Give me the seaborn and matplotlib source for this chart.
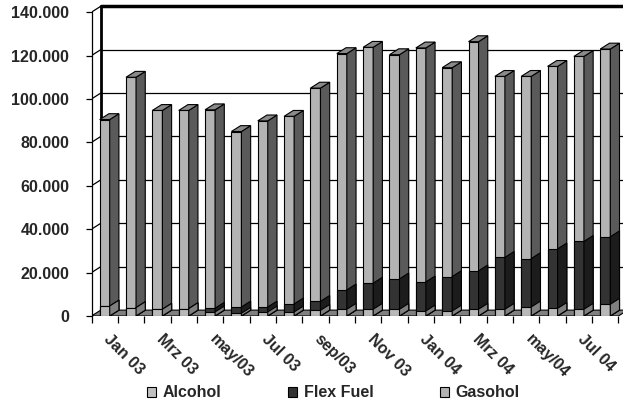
import numpy as np
import pandas as pd
import seaborn as sns
from matplotlib import pyplot as plt
from matplotlib.patches import Polygon, Patch
from matplotlib.transforms import ScaledTranslation

months = ['Jan 03', 'Feb 03', 'Mrz 03', 'Apr 03', 'may/03', 'Jun 03', 'Jul 03',
          'Aug 03', 'sep/03', 'Okt 03', 'Nov 03', 'Dez 03', 'Jan 04', 'Feb 04',
          'Mrz 04', 'Apr 04', 'may/04', 'Jun 04', 'Jul 04', 'Aug 04']
alcohol = [4600, 3850, 3100, 3400, 1850, 1250, 1850, 1850, 2600, 3100,
           3100, 3100, 2300, 2300, 3100, 3100, 4150, 3500, 3100, 5400]
flex = [0, 0, 0, 0, 1700, 2900, 2300, 3700, 4150, 8900,
        12000, 14000, 13400, 15850, 17700, 23900, 22300, 27400, 31250, 31100]
gasohol = [85900, 106150, 91600, 91300, 91450, 80850, 85750, 86450, 98250, 108900,
           108700, 103300, 107800, 96250, 105600, 83400, 83950, 84100, 85250, 86500]
y_ticks = [0, 20000, 40000, 60000, 80000, 100000, 120000, 140000]

df = pd.DataFrame({'month': months, 'Alcohol': alcohol,
                   'Flex Fuel': flex, 'Gasohol': gasohol})
df['lvl_alc'] = df['Alcohol']
df['lvl_flex'] = df['Alcohol'] + df['Flex Fuel']
df['lvl_total'] = df['lvl_flex'] + df['Gasohol']

sns.set_style('white')
plt.rcParams['font.family'] = ['Liberation Sans', 'DejaVu Sans']
plt.rcParams['font.weight'] = 'bold'

fig = plt.figure(figsize=(6.23, 4.05), dpi=100)
DX, DY = 0.35, 2700   # fake depth, in data units
ax = fig.add_axes([0.1469, 0.2198, 0.8606, 0.7647])

# layers: (column, front colour, side colour, zorder)
layers = [('lvl_total', '#b3b3b3', '#5a5a5a', 3),
          ('lvl_flex', '#333333', '#1c1c1c', 4),
          ('lvl_alc', '#b8b8b8', '#808080', 5)]

for col, front, side, z in layers:
    n0 = len(ax.patches)
    sns.barplot(data=df, x='month', y=col, color=front, saturation=1,
                width=0.38, edgecolor='black', linewidth=0.8, zorder=z, ax=ax)
    for p in ax.patches[n0:]:
        x0, y0 = p.get_x(), p.get_y()
        x1, y1 = x0 + p.get_width(), y0 + p.get_height()
        if y1 <= 0:
            continue
        ax.add_patch(Polygon([(x1, y0), (x1 + DX, y0 + DY), (x1 + DX, y1 + DY), (x1, y1)],
                             closed=True, facecolor=side, edgecolor='black',
                             linewidth=0.8, zorder=z))
        if col == 'lvl_total':
            ax.add_patch(Polygon([(x0, y1), (x1, y1), (x1 + DX, y1 + DY), (x0 + DX, y1 + DY)],
                                 closed=True, facecolor='#8a8a8a', edgecolor='black',
                                 linewidth=0.8, zorder=z))

n = len(months)
xl, xr = -0.5, n - 0.5
ymax = y_ticks[-1]

# floor
ax.add_patch(Polygon([(xl, 0), (xr, 0), (xr + DX, DY), (xl + DX, DY)], closed=True,
                     facecolor='#808080', edgecolor='black', linewidth=0.8, zorder=1))

# back wall grid and left wall diagonals
for yv in y_ticks[1:]:
    lw = 2.5 if yv == ymax else 0.9
    ax.plot([xl + DX, xr + DX + 1], [yv + DY, yv + DY], color='black', lw=lw, zorder=0.5,
            clip_on=False)
    ax.plot([xl, xl + DX], [yv, yv + DY], color='black', lw=0.9, zorder=0.5)
ax.plot([xl + DX, xl + DX], [DY, ymax + DY], color='black', lw=2, zorder=0.6)

ax.set_xlim(xl, xr + DX)
ax.set_ylim(0, ymax + DY)
for s in ['top', 'right', 'bottom']:
    ax.spines[s].set_visible(False)
ax.spines['left'].set_bounds(0, ymax)
ax.spines['left'].set_color('black')
ax.spines['left'].set_linewidth(0.9)

ax.set_yticks(y_ticks)
ax.set_yticklabels([f'{v:,}'.replace(',', '.') for v in y_ticks],
                   fontsize=11.5, fontweight='bold')
ax.tick_params(axis='y', left=True, length=4, width=0.9, color='black', pad=12)

ax.set_xticks(range(0, n, 2))
ax.set_xticklabels(months[::2], rotation=-45, ha='left', rotation_mode='anchor',
                   fontsize=11.5, fontweight='bold')
ax.set_xticks(np.arange(xl, xr + 0.01, 1), minor=True)
ax.tick_params(axis='x', which='major', length=0, pad=11)
ax.tick_params(axis='x', which='minor', bottom=True, length=5, width=0.9, color='black')
shift = ScaledTranslation(0.07, 0, fig.dpi_scale_trans)
for lbl in ax.get_xticklabels():
    lbl.set_transform(lbl.get_transform() + shift)
ax.set_xlabel('')
ax.set_ylabel('')

handles = [Patch(facecolor='#c0c0c0', edgecolor='black', lw=0.8, label='Alcohol'),
           Patch(facecolor='#333333', edgecolor='black', lw=0.8, label='Flex Fuel'),
           Patch(facecolor='#b3b3b3', edgecolor='black', lw=0.8, label='Gasohol')]
fig.legend(handles=handles, loc='center', bbox_to_anchor=(0.535, 0.03), ncol=3,
           frameon=False, prop={'size': 11.5, 'weight': 'bold'},
           handlelength=0.6, handleheight=0.6, handletextpad=0.4, columnspacing=4.15)

fig.savefig('out.png', dpi=100)
